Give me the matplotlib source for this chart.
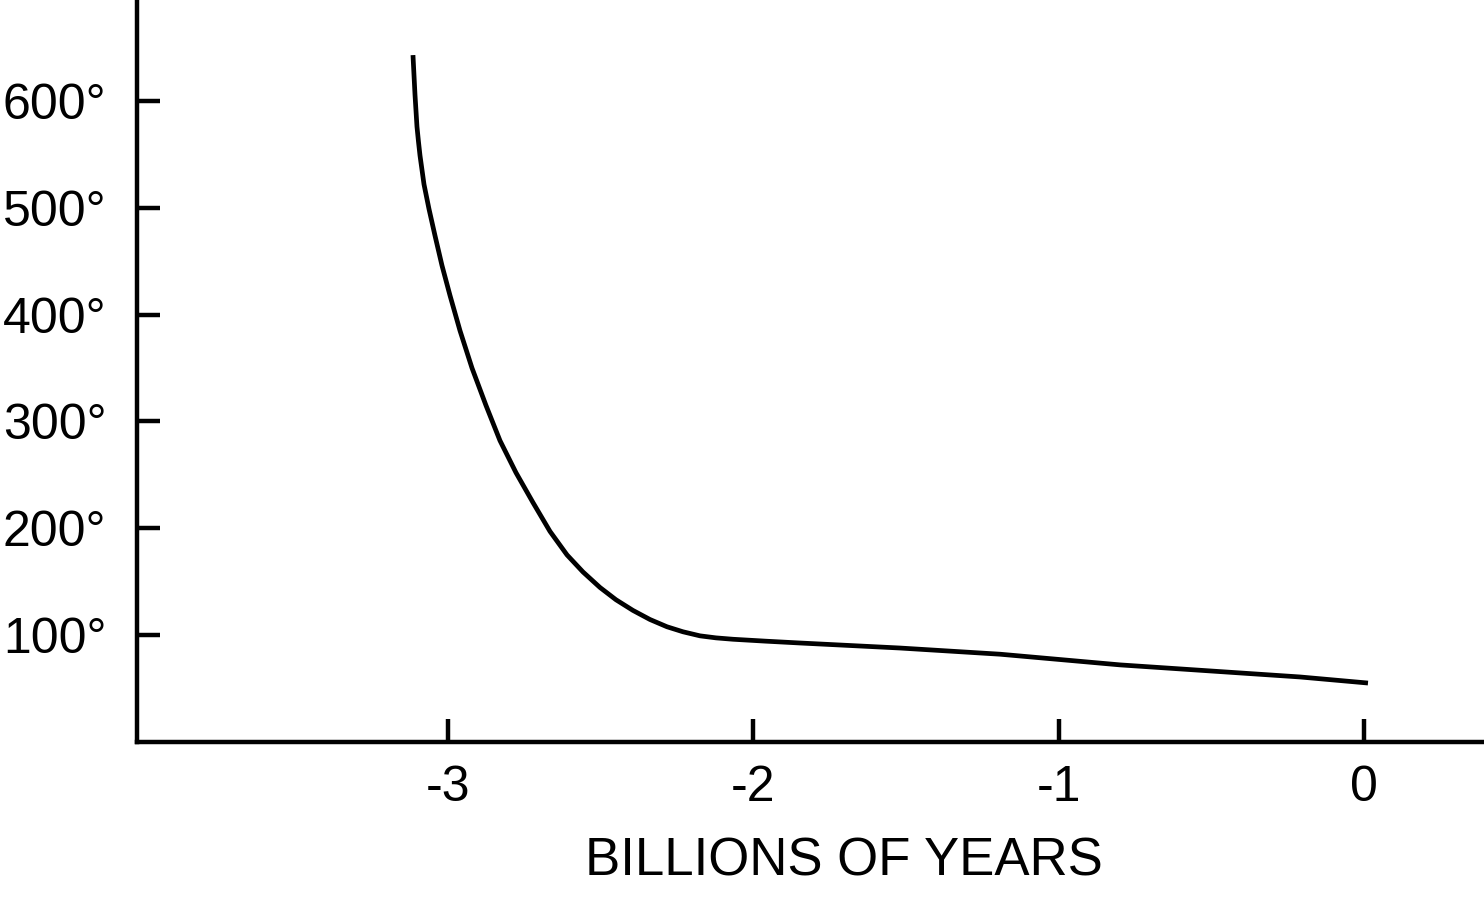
import matplotlib
matplotlib.use("Agg")
import matplotlib.pyplot as plt

plt.rcParams['font.family'] = ['Liberation Sans', 'DejaVu Sans']

# temperature curve (billions of years, degrees)
years = [-3.1150, -3.1084, -3.1019, -3.0970, -3.0920, -3.0789, -3.0626,
         -3.0429, -3.0200, -2.9938, -2.9610, -2.9217, -2.8759, -2.8300,
         -2.7776, -2.7219, -2.6662, -2.6105, -2.5581, -2.5025, -2.4501,
         -2.3944, -2.3387, -2.2830, -2.2306, -2.1749, -2.1225, -2.0668,
         -1.9587, -1.8474, -1.520, -1.192, -0.799, -0.210, 0.013]
temps = [643, 606, 576, 562, 549, 522, 499,
         474, 446, 418, 385, 350, 315, 282,
         252, 224, 197, 175, 159, 144.5, 133,
         123, 114.5, 107.7, 103, 99.2, 97.3, 96.0,
         94.2, 92.5, 87.8, 82, 72, 60.7, 55]

xticks = [-3, -2, -1, 0]
xtick_labels = ["-3", "-2", "-1", "0"]
yticks = [100, 200, 300, 400, 500, 600]
ytick_labels = ["100°", "200°", "300°", "400°", "500°", "600°"]

fig = plt.figure(figsize=(14.84, 9), dpi=100)
ax = fig.add_axes([0.0923, 0.1758, 0.9077, 0.8242])

ax.plot(years, temps, color="black", linewidth=3.4,
        solid_capstyle="butt", solid_joinstyle="round")

ax.set_xlim(-4.019, 0.393)
ax.set_ylim(0, 694.6)
ax.set_xticks(xticks)
ax.set_xticklabels(xtick_labels)
ax.set_yticks(yticks)
ax.set_yticklabels(ytick_labels)

ax.spines["top"].set_visible(False)
ax.spines["right"].set_visible(False)
for s in ("left", "bottom"):
    ax.spines[s].set_linewidth(3.2)

ax.tick_params(axis="both", direction="in", length=16.5, width=3.2,
               labelsize=36, colors="black")
ax.tick_params(axis="y", pad=22)
ax.tick_params(axis="x", pad=17)

ax.set_xlabel("BILLIONS OF YEARS", fontsize=38)
ax.xaxis.set_label_coords(0.525, -0.128)

fig.savefig("out.png", dpi=100)
